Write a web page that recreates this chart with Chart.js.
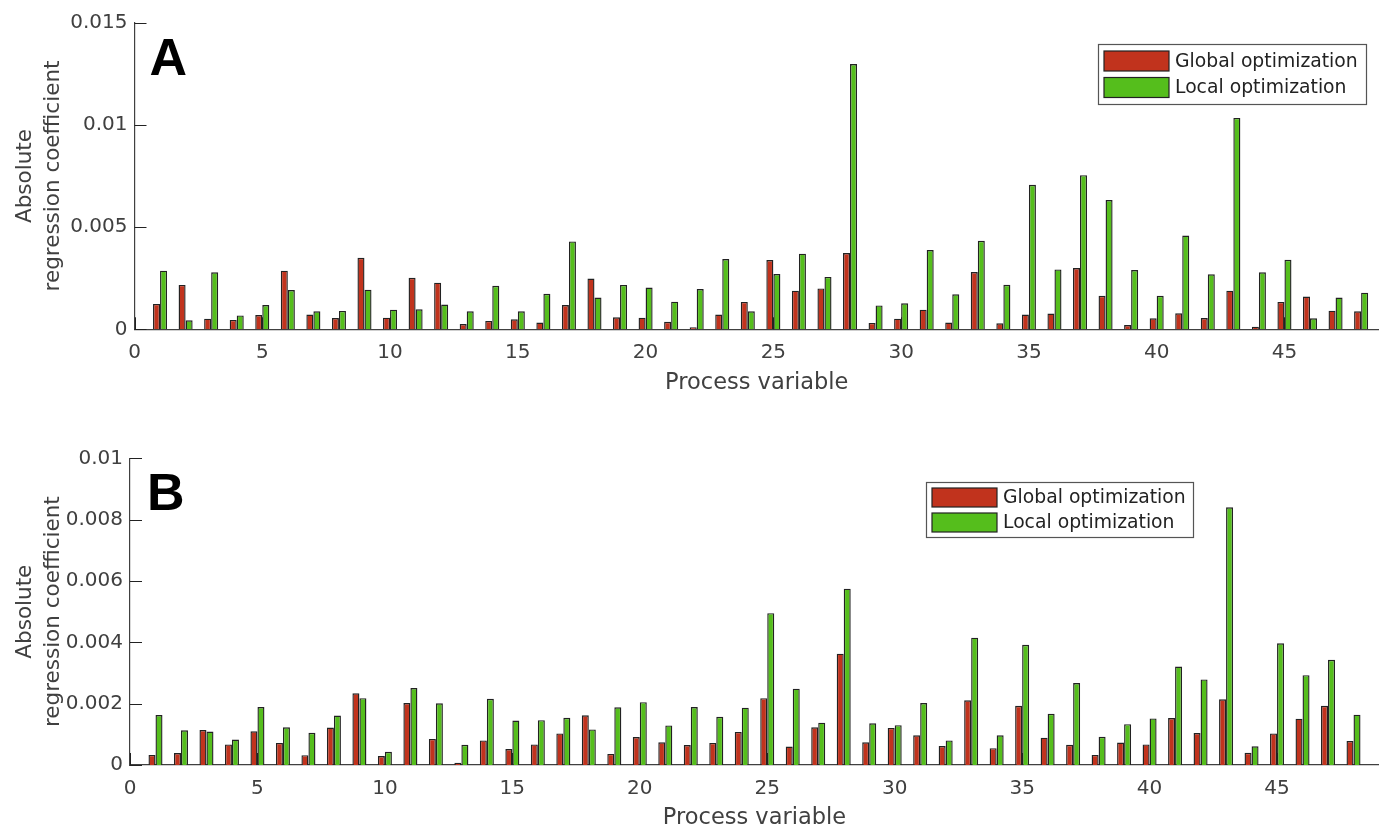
<!DOCTYPE html>
<html>
<head>
<meta charset="utf-8">
<script src="https://cdn.jsdelivr.net/npm/chart.js@4.4.1/dist/chart.umd.min.js"></script>
<style>
  html, body { margin: 0; padding: 0; background: #fff; overflow: hidden; width: 1379px; height: 827px; }
  .panel { position: absolute; left: 0; width: 1379px; }
  #wrapA { top: 0; height: 410px; }
  #wrapB { top: 410px; height: 430px; }
</style>
</head>
<body>
<div class="panel" id="wrapA"><canvas id="chartA"></canvas></div>
<div class="panel" id="wrapB"><canvas id="chartB"></canvas></div>
<script>
// Process variables 1..48
const variables = [1,2,3,4,5,6,7,8,9,10,11,12,13,14,15,16,17,18,19,20,21,22,23,24,
                   25,26,27,28,29,30,31,32,33,34,35,36,37,38,39,40,41,42,43,44,45,46,47,48];

const seriesNames = ['Global optimization', 'Local optimization'];

// Panel A: absolute regression coefficients
const globalA = [0.00124,0.00217,0.00052,0.00046,0.0007,0.00287,0.00072,0.00055,0.0035,0.00057,0.00252,0.00228,0.00026,0.00041,0.00049,0.00033,
                 0.00119,0.00248,0.00059,0.00057,0.00037,0.0001,0.00072,0.00134,0.00339,0.00189,0.002,0.00373,0.00031,0.00052,0.00096,0.00033,
                 0.0028,0.00029,0.00072,0.00077,0.003,0.00164,0.00021,0.00054,0.00078,0.00055,0.00189,0.00013,0.00134,0.0016,0.00091,0.00088];
const localA  = [0.00287,0.00044,0.00279,0.00068,0.00119,0.00192,0.00088,0.0009,0.00194,0.00096,0.00098,0.00121,0.00088,0.00213,0.00088,0.00174,
                 0.0043,0.00155,0.00217,0.00204,0.00135,0.00197,0.00344,0.00088,0.0027,0.0037,0.00256,0.01298,0.00117,0.00127,0.00388,0.00171,
                 0.00433,0.00218,0.00707,0.00293,0.00754,0.00632,0.0029,0.00164,0.00459,0.00269,0.01034,0.00279,0.0034,0.00054,0.00155,0.00179];

// Panel B: absolute regression coefficients
const globalB = [0.00033,0.00039,0.00114,0.00067,0.0011,0.00072,0.00032,0.00122,0.00234,0.00029,0.00202,0.00085,0.00007,0.0008,0.00052,0.00067,
                 0.00103,0.00162,0.00036,0.00091,0.00074,0.00065,0.00072,0.00108,0.00218,0.0006,0.00123,0.00363,0.00074,0.00121,0.00097,0.00062,
                 0.00211,0.00055,0.00193,0.00089,0.00066,0.00033,0.00073,0.00067,0.00153,0.00104,0.00214,0.0004,0.00103,0.00151,0.00193,0.00078];
const localB  = [0.00163,0.00113,0.00109,0.00083,0.00189,0.00123,0.00105,0.00161,0.00218,0.00043,0.00251,0.00201,0.00066,0.00216,0.00145,0.00146,
                 0.00154,0.00116,0.00188,0.00205,0.00129,0.00189,0.00157,0.00187,0.00495,0.00249,0.00138,0.00575,0.00136,0.0013,0.00202,0.0008,
                 0.00415,0.00097,0.00392,0.00167,0.00267,0.00092,0.00133,0.00152,0.00321,0.00279,0.0084,0.00061,0.00397,0.00293,0.00343,0.00164];

// Tick values and labels
const xTickValues = [0,5,10,15,20,25,30,35,40,45];
const yTicksA = [0, 0.005, 0.01, 0.015];
const yTickLabelsA = ['0', '0.005', '0.01', '0.015'];
const yTicksB = [0, 0.002, 0.004, 0.006, 0.008, 0.01];
const yTickLabelsB = ['0', '0.002', '0.004', '0.006', '0.008', '0.01'];

const RED = '#C1331D';
const GREEN = '#55BE1C';
const EDGE = '#222222';
const AXIS = '#404040';
const TEXT = '#404040';
const FONT = '"DejaVu Sans", "Open Sans", sans-serif';

// Inward tick marks, panel letter and boxed legend
const panelDecor = {
  id: 'panelDecor',
  afterDatasetsDraw(chart, args, opts) {
    const { ctx, chartArea } = chart;
    const xs = chart.scales.x, ys = chart.scales.y;
    ctx.save();
    ctx.strokeStyle = EDGE;
    ctx.lineWidth = 1;
    ctx.beginPath();
    ys.ticks.forEach(t => {
      const y = Math.round(ys.getPixelForValue(t.value)) + 0.5;
      ctx.moveTo(chartArea.left, y);
      ctx.lineTo(chartArea.left + 12, y);
    });
    xs.ticks.forEach(t => {
      const x = Math.round(xs.getPixelForValue(t.value)) + 0.5;
      ctx.moveTo(x, chartArea.bottom);
      ctx.lineTo(x, chartArea.bottom - 12);
    });
    ctx.stroke();

    // panel letter
    ctx.fillStyle = '#000';
    ctx.font = 'bold 52px "Liberation Sans", Arial, sans-serif';
    ctx.textBaseline = 'alphabetic';
    ctx.textAlign = 'left';
    ctx.fillText(opts.letter, chartArea.left + opts.letterDx, chartArea.top + opts.letterDy);

    // legend
    const L = opts.legend;
    const bx = chartArea.right - L.dxRight, by = chartArea.top + L.dy;
    ctx.fillStyle = '#fff';
    ctx.fillRect(bx, by, L.w, L.h);
    ctx.strokeStyle = '#555';
    ctx.lineWidth = 1.2;
    ctx.strokeRect(bx + 0.5, by + 0.5, L.w, L.h);
    ctx.font = '18.8px ' + FONT;
    ctx.textBaseline = 'middle';
    chart.data.datasets.forEach((ds, i) => {
      const sy = by + L.rowTop + i * L.rowStep;
      ctx.fillStyle = ds.backgroundColor;
      ctx.fillRect(bx + 6, sy, 65, L.swH);
      ctx.strokeStyle = EDGE;
      ctx.lineWidth = 1.2;
      ctx.strokeRect(bx + 6, sy, 65, L.swH);
      ctx.fillStyle = '#222';
      ctx.fillText(ds.label, bx + 77, sy + L.swH / 2 + 1);
    });
    ctx.restore();
  }
};

function makePanel(id, gVals, lVals, yMax, yTicks, yLabels, geo) {
  const toPoints = vals => variables.map((v, i) => ({ x: v, y: vals[i] }));
  const barStyle = { borderColor: EDGE, borderWidth: 1.4, categoryPercentage: 0.55, barPercentage: 1.0 };
  return new Chart(document.getElementById(id), {
    type: 'bar',
    data: {
      datasets: [
        Object.assign({ label: seriesNames[0], data: toPoints(gVals), backgroundColor: RED }, barStyle),
        Object.assign({ label: seriesNames[1], data: toPoints(lVals), backgroundColor: GREEN }, barStyle)
      ]
    },
    options: {
      responsive: true,
      maintainAspectRatio: false,
      animation: false,
      layout: { padding: { top: geo.padTop, left: 0, right: 0, bottom: 0 } },
      plugins: {
        legend: { display: false },
        tooltip: { enabled: false },
        panelDecor: geo.decor
      },
      scales: {
        x: {
          type: 'linear',
          min: 0,
          max: geo.xMax,
          offset: false,
          grid: { display: false, drawTicks: false, offset: false },
          border: { display: true, color: AXIS, width: 1.2 },
          afterBuildTicks: s => { s.ticks = xTickValues.map(v => ({ value: v })); },
          afterFit: s => { s.height = geo.xAxisH; },
          ticks: {
            padding: 11.5, autoSkip: false, maxRotation: 0, minRotation: 0,
            color: TEXT, font: { family: FONT, size: 20 },
            callback: v => String(v)
          },
          title: {
            display: true, text: 'Process variable', color: TEXT,
            font: { family: FONT, size: 22.5 },
            padding: { top: 0, bottom: geo.titlePadB }
          }
        },
        y: {
          min: 0,
          max: yMax,
          grid: { display: false, drawTicks: false },
          border: { display: true, color: AXIS, width: 1.2 },
          afterBuildTicks: s => { s.ticks = yTicks.map(v => ({ value: v })); },
          afterFit: s => { s.width = geo.yAxisW; },
          ticks: {
            padding: 7, color: TEXT, font: { family: FONT, size: 20 },
            callback: v => yLabels[yTicks.indexOf(v)]
          },
          title: {
            display: true, text: ['Absolute', 'regression coefficient'], color: TEXT,
            font: { family: FONT, size: 21.5, lineHeight: 1.3 },
            padding: { top: 11, bottom: 0 }
          }
        }
      }
    },
    plugins: [panelDecor]
  });
}

makePanel('chartA', globalA, localA, 0.015, yTicksA, yTickLabelsA, {
  padTop: 22.7, xMax: 48.7, xAxisH: 80.7, titlePadB: 13.3, yAxisW: 134.5,
  decor: { letter: 'A', letterDx: 15, letterDy: 52,
           legend: { dxRight: 281, dy: 21.3, w: 268, h: 60, rowTop: 7, rowStep: 26.5, swH: 20 } }
});

makePanel('chartB', globalB, localB, 0.01, yTicksB, yTickLabelsB, {
  padTop: 48.3, xMax: 49, xAxisH: 75, titlePadB: 8.3, yAxisW: 130,
  decor: { letter: 'B', letterDx: 17, letterDy: 51.7,
           legend: { dxRight: 453, dy: 23.7, w: 267, h: 55, rowTop: 6, rowStep: 25, swH: 19 } }
});
</script>
</body>
</html>
